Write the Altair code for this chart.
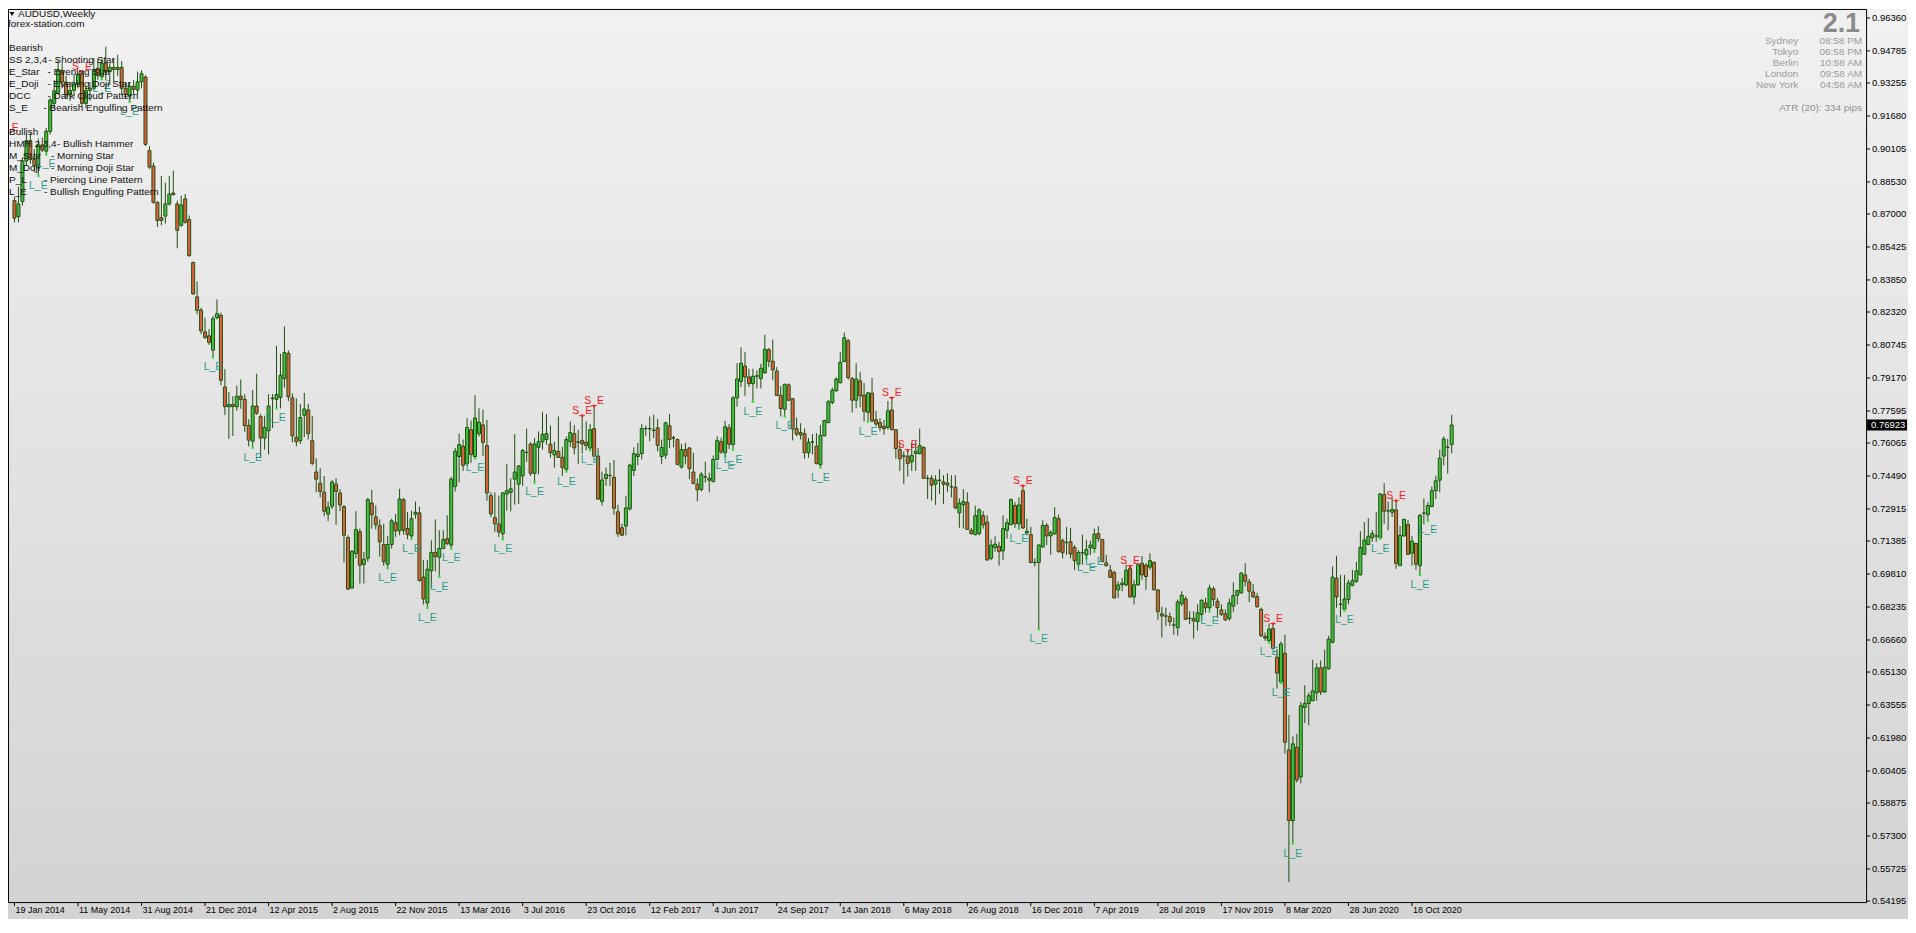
import altair as alt
import numpy as np
import pandas as pd

# ---------------- data (weekly AUDUSD, 19 Jan 2014 .. 27 Dec 2020) ----------------
opens = [
.8764,.8688,.8759,.8953,.9050,.8960,.8920,.9030,.9000,.9094,
.9228,.9275,.9386,.9330,.9270,.9290,.9320,.9370,.9228,.9290,
.9300,.9395,.9355,.9420,.9380,.9400,.9390,.9400,.9300,.9265,
.9310,.9292,.9331,.9354,.9003,.8929,.8756,.8682,.8690,.8748,
.8800,.8748,.8646,.8772,.8673,.8468,.8304,.8241,.8137,.8118,
.8050,.8205,.8216,.7874,.7780,.7790,.7780,.7830,.7815,.7690,
.7615,.7783,.7733,.7630,.7665,.7818,.7815,.7824,.7914,.8035,
.7822,.7634,.7618,.7739,.7764,.7618,.7468,.7415,.7372,.7267,
.7305,.7410,.7368,.7303,.7155,.6914,.7079,.7183,.7027,.7056,
.7320,.7254,.7212,.7122,.7028,.7122,.7226,.7187,.7336,.7198,
.7163,.7267,.7273,.6966,.6843,.6996,.7084,.7061,.7103,.7150,
.7119,.7399,.7542,.7591,.7508,.7670,.7541,.7651,.7693,.7594,
.7355,.7250,.7220,.7174,.7363,.7371,.7434,.7410,.7449,.7562,
.7601,.7462,.7586,.7612,.7623,.7601,.7550,.7566,.7538,.7481,
.7613,.7651,.7612,.7618,.7610,.7583,.7675,.7544,.7328,.7437,
.7452,.7443,.7278,.7202,.7210,.7292,.7476,.7542,.7556,.7675,
.7676,.7668,.7679,.7542,.7549,.7689,.7631,.7623,.7492,.7575,
.7583,.7468,.7410,.7385,.7445,.7429,.7423,.7528,.7613,.7560,
.7679,.7599,.7822,.7900,.7974,.7922,.7890,.7927,.7914,.7942,
.8052,.7997,.7950,.7834,.7767,.7884,.7818,.7675,.7657,.7651,
.7560,.7612,.7591,.7503,.7641,.7704,.7800,.7856,.7895,.7996,
.8095,.7914,.7811,.7903,.7835,.7753,.7845,.7717,.7704,.7686,
.7681,.7764,.7670,.7575,.7545,.7544,.7517,.7556,.7556,.7585,
.7438,.7438,.7410,.7429,.7421,.7415,.7398,.7396,.7273,.7312,
.7323,.7190,.7169,.7174,.7260,.7229,.7056,.7108,.7114,.7092,
.7190,.7217,.7308,.7221,.7379,.7177,.7169,.7036,.7036,.7111,
.7213,.7163,.7173,.7245,.7140,.7132,.7135,.7108,.7028,.7083,
.7072,.7106,.7103,.7174,.7146,.7034,.6999,.6988,.6906,.6930,
.6929,.7007,.6872,.6929,.7032,.7023,.7014,.7037,.6905,.6791,
.6781,.6777,.6738,.6725,.6839,.6862,.6770,.6768,.6754,.6788,
.6843,.6820,.6910,.6851,.6810,.6791,.6769,.6828,.6880,.6891,
.6977,.6943,.6895,.6873,.6812,.6683,.6662,.6721,.6584,.6466,
.6602,.6141,.5804,.6154,.6012,.6344,.6363,.6376,.6414,.6533,
.6418,.6529,.6655,.6961,.6837,.6812,.6859,.6927,.6946,.6977,
.7075,.7122,.7154,.7163,.7154,.7360,.7283,.7276,.7287,.7021,
.7163,.7218,.7080,.7127,.7021,.7272,.7264,.7303,.7379,.7429,
.7544,.7587,.7599]

highs = [
.8780,.8830,.8970,.9080,.9085,.9010,.9060,.9065,.9110,.9255,
.9340,.9433,.9420,.9360,.9330,.9370,.9375,.9378,.9310,.9330,
.9445,.9440,.9440,.9499,.9420,.9440,.9460,.9430,.9330,.9330,
.9340,.9380,.9386,.9362,.9024,.8945,.8760,.8882,.8850,.8882,
.8906,.8764,.8787,.8795,.8693,.8473,.8378,.8252,.8205,.8150,
.8213,.8292,.8229,.7960,.7850,.7830,.7880,.7910,.7840,.7720,
.7860,.7937,.7745,.7737,.7840,.7840,.8071,.8032,.8163,.8048,
.7843,.7819,.7793,.7846,.7793,.7737,.7533,.7486,.7449,.7327,
.7430,.7438,.7386,.7310,.7166,.7095,.7281,.7198,.7087,.7344,
.7383,.7308,.7242,.7221,.7163,.7245,.7268,.7388,.7344,.7276,
.7284,.7327,.7303,.7048,.7048,.7142,.7242,.7190,.7190,.7261,
.7445,.7583,.7651,.7623,.7725,.7714,.7835,.7772,.7766,.7717,
.7371,.7371,.7355,.7371,.7505,.7438,.7649,.7501,.7578,.7675,
.7610,.7630,.7662,.7755,.7745,.7690,.7613,.7733,.7588,.7638,
.7709,.7692,.7670,.7737,.7709,.7697,.7783,.7583,.7470,.7489,
.7512,.7525,.7312,.7221,.7355,.7508,.7586,.7607,.7697,.7690,
.7733,.7741,.7722,.7623,.7708,.7745,.7641,.7627,.7602,.7607,
.7586,.7560,.7437,.7468,.7517,.7465,.7547,.7638,.7632,.7712,
.7697,.7830,.7988,.8063,.8040,.7961,.7961,.7953,.7985,.8123,
.8060,.8100,.7969,.7878,.7890,.7890,.7821,.7728,.7701,.7675,
.7630,.7649,.7654,.7693,.7717,.7811,.7871,.7919,.8040,.8134,
.8103,.7922,.7988,.7945,.7893,.7851,.7917,.7760,.7725,.7717,
.7807,.7822,.7672,.7610,.7567,.7571,.7607,.7615,.7675,.7591,
.7453,.7453,.7453,.7481,.7453,.7462,.7453,.7453,.7342,.7386,
.7371,.7202,.7308,.7295,.7281,.7261,.7146,.7161,.7135,.7261,
.7245,.7342,.7324,.7347,.7402,.7245,.7206,.7056,.7124,.7237,
.7224,.7190,.7300,.7264,.7150,.7206,.7201,.7119,.7095,.7169,
.7143,.7140,.7198,.7209,.7147,.7072,.7025,.6996,.6946,.6962,
.7025,.7017,.6954,.7032,.7067,.7032,.7080,.7040,.6906,.6825,
.6820,.6796,.6773,.6859,.6899,.6875,.6804,.6804,.6836,.6859,
.6867,.6930,.6922,.6867,.6836,.6812,.6864,.6941,.6906,.6990,
.7032,.6958,.6933,.6891,.6820,.6702,.6744,.6744,.6623,.6659,
.6691,.6308,.6206,.6218,.6371,.6450,.6415,.6571,.6555,.6568,
.6620,.6686,.7017,.7068,.6977,.6977,.6954,.7001,.7040,.7185,
.7229,.7248,.7190,.7276,.7368,.7415,.7327,.7347,.7331,.7210,
.7245,.7240,.7163,.7130,.7268,.7342,.7324,.7399,.7450,.7575,
.7638,.7626,.7741]

lows = [
.8660,.8660,.8740,.8930,.8940,.8900,.8882,.8995,.8984,.9080,
.9200,.9270,.9300,.9250,.9240,.9260,.9300,.9210,.9205,.9240,
.9290,.9340,.9343,.9340,.9320,.9330,.9360,.9270,.9250,.9236,
.9270,.9270,.9300,.9025,.8915,.8748,.8638,.8646,.8654,.8740,
.8788,.8536,.8638,.8654,.8496,.8315,.8221,.8126,.8103,.8075,
.8016,.8197,.7882,.7740,.7626,.7640,.7760,.7770,.7660,.7590,
.7584,.7741,.7536,.7575,.7552,.7678,.7772,.7772,.7871,.7807,
.7610,.7591,.7602,.7635,.7623,.7500,.7371,.7347,.7257,.7234,
.7292,.7216,.7281,.7037,.6905,.6911,.7056,.6936,.6936,.7040,
.7198,.7194,.7064,.7021,.7009,.7103,.7158,.7166,.7169,.7147,
.7150,.7245,.6945,.6835,.6820,.6914,.6993,.6969,.7100,.7119,
.7103,.7375,.7418,.7473,.7497,.7512,.7533,.7638,.7544,.7331,
.7253,.7182,.7158,.7147,.7284,.7281,.7312,.7316,.7402,.7517,
.7449,.7418,.7457,.7575,.7599,.7536,.7489,.7536,.7449,.7470,
.7588,.7552,.7505,.7556,.7572,.7572,.7540,.7336,.7308,.7402,
.7402,.7264,.7158,.7163,.7166,.7284,.7449,.7500,.7528,.7641,
.7615,.7630,.7567,.7505,.7531,.7583,.7586,.7500,.7484,.7505,
.7434,.7410,.7328,.7375,.7418,.7371,.7418,.7525,.7555,.7544,
.7578,.7575,.7780,.7874,.7832,.7874,.7804,.7867,.7867,.7937,
.7969,.7906,.7832,.7733,.7733,.7807,.7619,.7638,.7623,.7531,
.7536,.7552,.7505,.7489,.7638,.7701,.7791,.7851,.7890,.7992,
.7909,.7752,.7772,.7777,.7709,.7709,.7705,.7686,.7662,.7646,
.7670,.7667,.7531,.7473,.7410,.7446,.7473,.7473,.7552,.7436,
.7339,.7331,.7311,.7363,.7316,.7374,.7347,.7290,.7202,.7198,
.7192,.7169,.7166,.7166,.7198,.7045,.7048,.7088,.7021,.7048,
.7150,.7213,.7201,.7198,.7196,.7166,.7032,.7017,.6718,.7106,
.7119,.7072,.7169,.7083,.7056,.7072,.7056,.7001,.7006,.7025,
.7056,.7072,.7088,.7135,.7037,.7017,.6962,.6864,.6867,.6899,
.6922,.6867,.6836,.6925,.6954,.6906,.7001,.6903,.6762,.6678,
.6733,.6733,.6691,.6686,.6828,.6762,.6741,.6673,.6710,.6757,
.6796,.6804,.6828,.6770,.6781,.6757,.6757,.6801,.6836,.6888,
.6922,.6847,.6867,.6820,.6681,.6662,.6654,.6623,.6434,.6461,
.6124,.5510,.5694,.5986,.5982,.6269,.6258,.6376,.6376,.6403,
.6414,.6524,.6650,.6820,.6776,.6807,.6836,.6922,.6938,.6974,
.7072,.7119,.7135,.7135,.7150,.7221,.7190,.7253,.7006,.7021,
.7158,.7072,.7021,.7001,.6977,.7218,.7237,.7300,.7339,.7371,
.7500,.7460,.7557]

closes = [
.8680,.8748,.8953,.9050,.8960,.8930,.9030,.9005,.9095,.9244,
.9288,.9386,.9330,.9270,.9290,.9320,.9365,.9228,.9290,.9300,
.9390,.9360,.9420,.9380,.9400,.9390,.9400,.9300,.9270,.9310,
.9295,.9331,.9370,.9032,.8924,.8756,.8669,.8669,.8748,.8795,
.8792,.8622,.8743,.8661,.8501,.8318,.8240,.8142,.8111,.8087,
.8200,.8224,.7906,.7780,.7790,.7780,.7830,.7815,.7690,.7620,
.7783,.7749,.7630,.7681,.7783,.7821,.7838,.7930,.8038,.7827,
.7641,.7612,.7728,.7769,.7651,.7509,.7434,.7375,.7281,.7300,
.7420,.7375,.7311,.7166,.6909,.7089,.7193,.7023,.7051,.7336,
.7264,.7216,.7135,.7040,.7122,.7235,.7187,.7339,.7190,.7169,
.7245,.7276,.6950,.6862,.7004,.7084,.7064,.7103,.7146,.7127,
.7434,.7567,.7599,.7500,.7681,.7552,.7726,.7706,.7610,.7368,
.7268,.7221,.7182,.7368,.7379,.7388,.7468,.7497,.7571,.7561,
.7462,.7602,.7613,.7648,.7651,.7561,.7571,.7538,.7489,.7623,
.7656,.7583,.7610,.7602,.7594,.7670,.7544,.7339,.7430,.7457,
.7451,.7295,.7174,.7166,.7297,.7501,.7556,.7553,.7675,.7676,
.7674,.7667,.7594,.7585,.7703,.7623,.7630,.7505,.7575,.7544,
.7484,.7413,.7383,.7457,.7444,.7438,.7528,.7618,.7564,.7684,
.7601,.7822,.7912,.7988,.7922,.7890,.7925,.7926,.7964,.8054,
.7997,.7956,.7834,.7771,.7887,.7811,.7673,.7649,.7645,.7560,
.7610,.7611,.7508,.7643,.7714,.7804,.7859,.7912,.7992,.8109,
.7919,.7811,.7912,.7832,.7758,.7846,.7712,.7697,.7681,.7675,
.7760,.7670,.7580,.7531,.7544,.7509,.7547,.7567,.7594,.7438,
.7437,.7405,.7430,.7428,.7410,.7405,.7397,.7297,.7319,.7327,
.7194,.7174,.7260,.7287,.7216,.7048,.7119,.7124,.7088,.7198,
.7226,.7336,.7221,.7311,.7201,.7185,.7036,.7035,.7119,.7213,
.7163,.7179,.7251,.7088,.7083,.7131,.7077,.7045,.7084,.7082,
.7098,.7119,.7171,.7150,.7040,.7021,.6965,.6867,.6929,.6938,
.6999,.6872,.6930,.7025,.6977,.6969,.7045,.6906,.6801,.6781,
.6780,.6754,.6737,.6848,.6880,.6765,.6769,.6757,.6796,.6856,
.6820,.6914,.6859,.6820,.6788,.6762,.6843,.6878,.6902,.6985,
.6946,.6899,.6872,.6825,.6686,.6675,.6718,.6626,.6508,.6647,
.6178,.5804,.6170,.5998,.6352,.6363,.6400,.6423,.6533,.6418,
.6536,.6670,.6966,.6872,.6836,.6862,.6938,.6949,.6996,.7108,
.7143,.7161,.7174,.7162,.7363,.7281,.7282,.7289,.7032,.7166,
.7242,.7075,.7138,.7028,.7261,.7271,.7308,.7379,.7426,.7534,
.7626,.7586,.76923]

# date labels every 16 weekly bars
date_labels = ["19 Jan 2014", "11 May 2014", "31 Aug 2014", "21 Dec 2014", "12 Apr 2015",
               "2 Aug 2015", "22 Nov 2015", "13 Mar 2016", "3 Jul 2016", "23 Oct 2016",
               "12 Feb 2017", "4 Jun 2017", "24 Sep 2017", "14 Jan 2018", "6 May 2018",
               "26 Aug 2018", "16 Dec 2018", "7 Apr 2019", "28 Jul 2019", "17 Nov 2019",
               "8 Mar 2020", "28 Jun 2020", "18 Oct 2020"]
label_step = 16

y_ticks = [0.96360, 0.94785, 0.93255, 0.91680, 0.90105, 0.88530, 0.87000, 0.85425,
           0.83850, 0.82320, 0.80745, 0.79170, 0.77595, 0.76065, 0.74490, 0.72915,
           0.71385, 0.69810, 0.68235, 0.66660, 0.65130, 0.63555, 0.61980, 0.60405,
           0.58875, 0.57300, 0.55725, 0.54195]

# pattern markers (bar indices)
le_marks = [6, 8, 22, 29, 50, 60, 66, 94, 100, 104, 107, 110, 116, 123, 131, 139, 145,
            179, 181, 186, 194, 203, 215, 253, 258, 270, 272, 301, 316, 319, 322, 335,
            344, 354, 356]
se_marks = [17, 143, 146, 221, 225, 254, 281, 317, 348]
offscreen_se_i = [-1.4]
offscreen_se_p = [0.9095]

bearish_legend = [("Bearish", ""), ("SS 2,3,4", "- Shooting Star"), ("E_Star", "- Evening Star"),
                  ("E_Doji", "- Evening Doji Star"), ("DCC", "- Dark Cloud Pattern"),
                  ("S_E", "- Bearish Engulfing Pattern")]
bullish_legend = [("Bullish", ""), ("HMR 2,3,4", "- Bullish Hammer"), ("M_Star", "- Morning Star"),
                  ("M_Doji", "- Morning Doji Star"), ("P_L", "- Piercing Line Pattern"),
                  ("L_E", "- Bullish Engulfing Pattern")]
cities = ["Sydney", "Tokyo", "Berlin", "London", "New York"]
city_times = ["08:58 PM", "06:58 PM", "10:58 AM", "09:58 AM", "04:58 AM"]
spread_text = "2.1"
atr_text = "ATR (20): 334 pips"
symbol_text = "AUDUSD,Weekly"
site_text = "forex-station.com"

# ---------------- layout / style ----------------
W, H = 1862, 895
PAD_R, PAD_B = 42, 17
XDOM = [-0.375, 465.125]
YDOM = [0.54147, 0.96789]
FONT = "Liberation Sans"
OUT = "#1f4f0e"
BULL = "#3fc23f"
BEAR = "#e2603e"
TEAL = "#2a9c8a"
RED = "#ff1a1a"

n = len(closes)
df = pd.DataFrame({"i": np.arange(n), "o": opens[:n], "h": highs[:n], "l": lows[:n], "c": closes})
df["b0"] = np.minimum(df["o"], df["c"])
df["b1"] = np.maximum(df["o"], df["c"])
df["d"] = np.where(df["c"] >= df["o"], "up", "down")

xs = alt.Scale(domain=XDOM, nice=False, zero=False)
ys = alt.Scale(domain=YDOM, nice=False, zero=False)


def X(f):
    return alt.X(f, scale=xs, axis=None)


def Y(f):
    return alt.Y(f, scale=ys, axis=None)


one = pd.DataFrame({"k": [0]})
layers = []

# background gradient over the whole figure
grad = alt.LinearGradient(gradient="linear",
                          stops=[alt.GradientStop(color="#f1f1f1", offset=0),
                                 alt.GradientStop(color="#d3d3d3", offset=1)],
                          x1=0, x2=0, y1=0, y2=1)
layers.append(alt.Chart(one).mark_rect(fill=grad, strokeWidth=0).encode(
    x=alt.value(0), x2=alt.value(W + PAD_R), y=alt.value(0), y2=alt.value(H + PAD_B)))

# candles
layers.append(alt.Chart(df).mark_rule(color=OUT, strokeWidth=1).encode(
    x=X("i:Q"), y=Y("l:Q"), y2="h:Q"))
layers.append(alt.Chart(df).mark_bar(size=3, stroke=OUT, strokeWidth=1).encode(
    x=X("i:Q"), y=Y("b0:Q"), y2="b1:Q",
    fill=alt.Fill("d:N", scale=alt.Scale(domain=["up", "down"], range=[BULL, BEAR]), legend=None)))

# pattern markers
le_df = df[df["i"].isin(le_marks)]
se_df = df[df["i"].isin(se_marks)]
layers.append(alt.Chart(le_df).mark_square(size=6, color="#3ddd3d", opacity=1).encode(
    x=X("i:Q"), y=Y("l:Q")))
layers.append(alt.Chart(le_df).mark_text(text="L_E", font=FONT, fontSize=10.5, color=TEAL,
                                         baseline="top", dy=5).encode(x=X("i:Q"), y=Y("l:Q")))
layers.append(alt.Chart(se_df).mark_square(size=6, color=RED, opacity=1).encode(
    x=X("i:Q"), y=Y("h:Q")))
layers.append(alt.Chart(se_df).mark_text(text="S_E", font=FONT, fontSize=10.5, color=RED,
                                         baseline="alphabetic", dy=-2).encode(x=X("i:Q"), y=Y("h:Q")))
off_df = pd.DataFrame({"i": offscreen_se_i, "p": offscreen_se_p})
layers.append(alt.Chart(off_df).mark_text(text="S_E", font=FONT, fontSize=10.5, color=RED,
                                          baseline="alphabetic", clip=True).encode(
    x=X("i:Q"), y=Y("p:Q")))


def txt(s, x, y, size=10, color="#111111", align="left", baseline="middle", weight="normal"):
    return alt.Chart(one).mark_text(text=s, font=FONT, fontSize=size, color=color, align=align,
                                    baseline=baseline, fontWeight=weight).encode(
        x=alt.value(x), y=alt.value(y))


# header
layers.append(alt.Chart(one).mark_point(shape="triangle-down", filled=True, color="black",
                                        size=22, opacity=1).encode(x=alt.value(4), y=alt.value(5)))
layers.append(txt(symbol_text, 10, 5.5))
layers.append(txt(site_text, 0, 15.5))

# legend block
desc_x_bear = [0, 40.5, 39.5, 39.5, 39.5, 35.5]
desc_x_bull = [0, 49, 43, 43, 36, 36]
for k, (code, desc) in enumerate(bearish_legend):
    yy = 39.5 + 12 * k
    layers.append(txt(code, 1, yy, size=10))
    if desc:
        layers.append(txt(desc, desc_x_bear[k], yy, size=10))
for k, (code, desc) in enumerate(bullish_legend):
    yy = 123.5 + 12 * k
    layers.append(txt(code, 1, yy, size=10))
    if desc:
        layers.append(txt(desc, desc_x_bull[k], yy, size=10))

# top-right info block
layers.append(txt(spread_text, 1856, 2, size=27, color="#8a8a8a", align="right",
                  baseline="top", weight="bold"))
for k, (c_name, c_time) in enumerate(zip(cities, city_times)):
    yy = 32 + 11 * k
    layers.append(txt(c_name, 1794, yy, size=10, color="#9a9a9a", align="right"))
    layers.append(txt(c_time, 1858, yy, size=10, color="#9a9a9a", align="right"))
layers.append(txt(atr_text, 1858, 99, size=10, color="#8f8f8f", align="right"))

# price axis (right): ticks + labels drawn through the y scale
yt = pd.DataFrame({"v": y_ticks, "lab": ["%.5f" % v for v in y_ticks]})
layers.append(alt.Chart(yt).mark_rule(color="black", strokeWidth=1).encode(
    x=alt.value(W), x2=alt.value(W + 4), y=Y("v:Q")))
layers.append(alt.Chart(yt).mark_text(font=FONT, fontSize=9.5, color="black", align="left",
                                      baseline="middle").encode(
    x=alt.value(W + 6), y=Y("v:Q"), text="lab:N"))

# time axis (bottom): ticks + labels drawn through the x scale
xt = pd.DataFrame({"pos": list(range(0, label_step * len(date_labels), label_step)),
                   "lab": date_labels})
layers.append(alt.Chart(xt).mark_rule(color="black", strokeWidth=1).encode(
    x=X("pos:Q"), y=alt.value(H), y2=alt.value(H + 4)))
layers.append(alt.Chart(xt).mark_text(font=FONT, fontSize=9, color="black", align="left",
                                      baseline="top", dx=1).encode(
    x=X("pos:Q"), y=alt.value(H + 4), text="lab:N"))

# current price box on the price axis
half = 5.5 * (YDOM[1] - YDOM[0]) / H
last = closes[-1]
box_df = pd.DataFrame({"c": [last], "t": ["%.5f" % last], "y0": [last - half], "y1": [last + half]})
layers.append(alt.Chart(box_df).mark_rect(color="black").encode(
    x=alt.value(W + 1), x2=alt.value(W + 41), y=Y("y0:Q"), y2="y1:Q"))
layers.append(alt.Chart(box_df).mark_text(font=FONT, fontSize=9.5, color="white", align="left",
                                          baseline="middle").encode(
    x=alt.value(W + 5), y=Y("c:Q"), text="t:N"))

# plot frame
layers.append(alt.Chart(one).mark_rect(filled=False, stroke="black", strokeWidth=1).encode(
    x=alt.value(0.5), x2=alt.value(W + 0.5), y=alt.value(0.5), y2=alt.value(H + 0.5)))

chart = alt.layer(*layers).properties(
    width=W, height=H,
    padding={"left": 0, "top": 0, "right": PAD_R, "bottom": PAD_B},
    autosize=alt.AutoSizeParams(type="none"),
).configure_view(strokeWidth=0)

chart.save("out.html", embed_options={"renderer": "svg", "actions": False})
